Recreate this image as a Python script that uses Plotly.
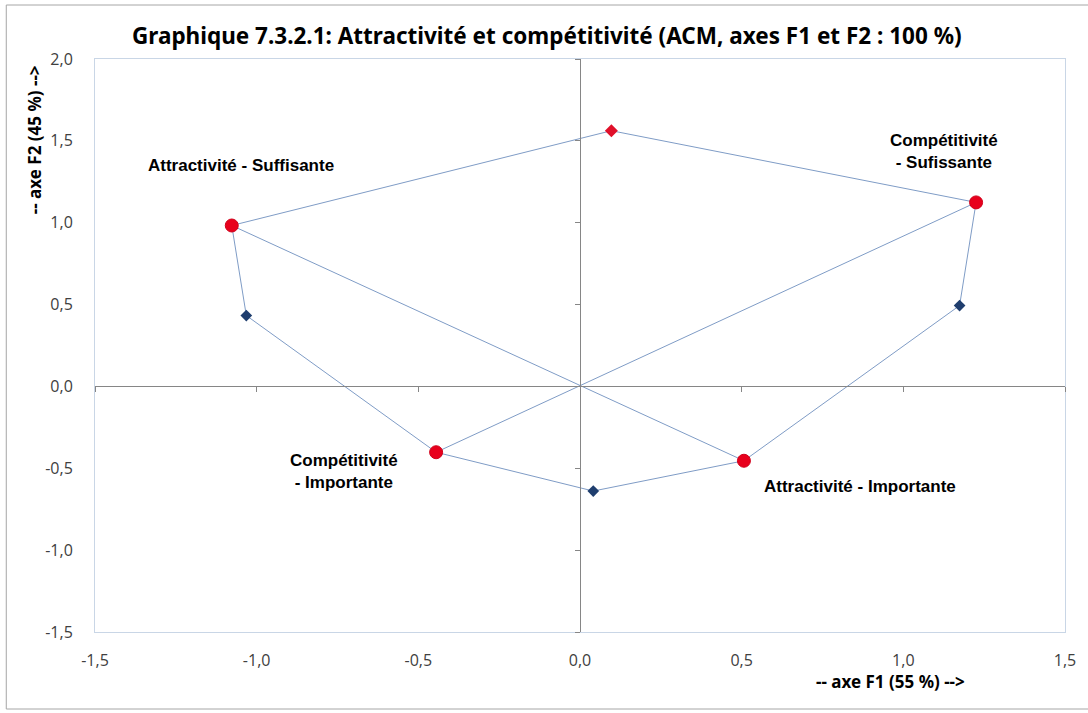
import plotly.graph_objects as go

# Main modalities (red circles)
mod_labels = ["Attractivité - Suffisante", "Compétitivité<br>- Sufissante",
              "Compétitivité<br>- Importante", "Attractivité - Importante"]
mod_x = [-1.077, 1.225, -0.445, 0.507]
mod_y = [0.983, 1.124, -0.402, -0.454]

# Secondary point (red diamond)
red_x = [0.097]
red_y = [1.562]

# Secondary points (blue diamonds): right, bottom, left
blue_x = [1.174, 0.041, -1.032]
blue_y = [0.494, -0.639, 0.433]

x_ticks = [-1.5, -1.0, -0.5, 0.0, 0.5, 1.0, 1.5]
x_tick_text = ["-1,5", "-1,0", "-0,5", "0,0", "0,5", "1,0", "1,5"]
y_ticks = [-1.5, -1.0, -0.5, 0.0, 0.5, 1.0, 1.5, 2.0]
y_tick_text = ["-1,5", "-1,0", "-0,5", "0,0", "0,5", "1,0", "1,5", "2,0"]

X_RANGE = [-1.5, 1.5]
Y_RANGE = [-1.5, 2.0]

LINE_COLOR = "#7f9cc6"
LABEL_FONT = dict(family="Liberation Sans Narrow, Arial Narrow, Liberation Sans, Arial", size=17, color="#000000")
TICK_FONT = dict(family="Open Sans, Noto Sans, sans-serif", size=16, color="#404040")
TITLE_FONT_FAMILY = "Noto Sans, Open Sans, sans-serif"

# polygon outline order
poly_x = [mod_x[0], red_x[0], mod_x[1], blue_x[0], mod_x[3], blue_x[1], mod_x[2], blue_x[2], mod_x[0]]
poly_y = [mod_y[0], red_y[0], mod_y[1], blue_y[0], mod_y[3], blue_y[1], mod_y[2], blue_y[2], mod_y[0]]

fig = go.Figure()

fig.add_trace(go.Scatter(x=poly_x, y=poly_y, mode="lines",
                         line=dict(color=LINE_COLOR, width=1), hoverinfo="skip"))
# lines through origin (Attractivité pair and Compétitivité pair)
fig.add_trace(go.Scatter(x=[mod_x[0], mod_x[3], None, mod_x[2], mod_x[1]],
                         y=[mod_y[0], mod_y[3], None, mod_y[2], mod_y[1]],
                         mode="lines", line=dict(color=LINE_COLOR, width=1),
                         xaxis="x2", yaxis="y2", hoverinfo="skip"))
fig.add_trace(go.Scatter(x=blue_x, y=blue_y, mode="markers", xaxis="x2", yaxis="y2",
                         marker=dict(symbol="diamond", size=9, color="#1f3e6e",
                                     line=dict(width=0))))
fig.add_trace(go.Scatter(x=red_x, y=red_y, mode="markers", xaxis="x2", yaxis="y2",
                         marker=dict(symbol="diamond", size=10, color="#e0102a",
                                     line=dict(width=0))))
fig.add_trace(go.Scatter(x=mod_x, y=mod_y, mode="markers", xaxis="x2", yaxis="y2",
                         marker=dict(symbol="circle", size=13, color="#e8001c",
                                     line=dict(width=1, color="#d0001a"))))

# label offsets (pixels) relative to each point
label_shift = [(9, 60), (-32, 51), (-92, -19), (116, -26)]
for lbl, x, y, (dx, dy) in zip(mod_labels, mod_x, mod_y, label_shift):
    fig.add_annotation(x=x, y=y, xref="x", yref="y", text="<b>" + lbl + "</b>",
                       showarrow=False, xshift=dx, yshift=dy, font=LABEL_FONT,
                       align="center", xanchor="center", yanchor="middle")

fig.add_annotation(x=(548 - 95) / 973, y=1 + (59 - 36) / 573, xref="paper", yref="paper",
                   text="<b>Graphique 7.3.2.1: Attractivité et compétitivité (ACM, axes F1 et F2 : 100 %)</b>",
                   showarrow=False, font=dict(family=TITLE_FONT_FAMILY, size=22.5, color="#000000"),
                   xanchor="center", yanchor="middle")
fig.add_annotation(x=(893 - 95) / 973, y=-(681 - 632) / 573, xref="paper", yref="paper",
                   text="<b>-- axe F1 (55 %) --></b>", showarrow=False,
                   font=dict(family=TITLE_FONT_FAMILY, size=17, color="#000000"),
                   xanchor="center", yanchor="middle")
fig.add_annotation(x=-(95 - 34) / 973, y=(632 - 140) / 573, xref="paper", yref="paper",
                   text="<b>-- axe F2 (45 %) --></b>", showarrow=False, textangle=-90,
                   font=dict(family=TITLE_FONT_FAMILY, size=17, color="#000000"),
                   xanchor="center", yanchor="middle")

# outer chart frame
fig.add_shape(type="rect", xref="paper", yref="paper",
              x0=-(95 - 6) / 973, x1=1 + 60 / 973,
              y0=-(709 - 632) / 573, y1=1 + (59 - 5) / 573,
              line=dict(color="#a6a6a6", width=1), layer="below")

fig.update_layout(
    width=1088, height=713,
    margin=dict(l=95, r=20, t=59, b=81),
    paper_bgcolor="white", plot_bgcolor="white",
    showlegend=False, hovermode=False,
    xaxis=dict(range=X_RANGE, tickvals=x_ticks, ticktext=x_tick_text, showgrid=False,
               zeroline=False, showline=True, mirror=True, linecolor="#c9d6e6", linewidth=1,
               ticks="", tickfont=TICK_FONT, ticklabelstandoff=14, fixedrange=True),
    yaxis=dict(range=Y_RANGE, tickvals=y_ticks, ticktext=y_tick_text, showgrid=False,
               zeroline=False, showline=True, mirror=True, linecolor="#c9d6e6", linewidth=1,
               ticks="", tickfont=TICK_FONT, ticklabelstandoff=18, fixedrange=True),
    xaxis2=dict(range=X_RANGE, overlaying="x", anchor="free",
                position=(0 - Y_RANGE[0]) / (Y_RANGE[1] - Y_RANGE[0]),
                tickvals=x_ticks, showticklabels=False, ticks="outside", ticklen=5,
                tickcolor="#868686", showline=True, linecolor="#868686", linewidth=1,
                showgrid=False, zeroline=False, fixedrange=True),
    yaxis2=dict(range=Y_RANGE, overlaying="y", anchor="free",
                position=(0 - X_RANGE[0]) / (X_RANGE[1] - X_RANGE[0]),
                tickvals=y_ticks, showticklabels=False, ticks="outside", ticklen=5,
                tickcolor="#868686", showline=True, linecolor="#868686", linewidth=1,
                showgrid=False, zeroline=False, fixedrange=True),
)

fig.write_html("out.html", config={"displayModeBar": False},
               post_script="document.body.style.margin='0';")
